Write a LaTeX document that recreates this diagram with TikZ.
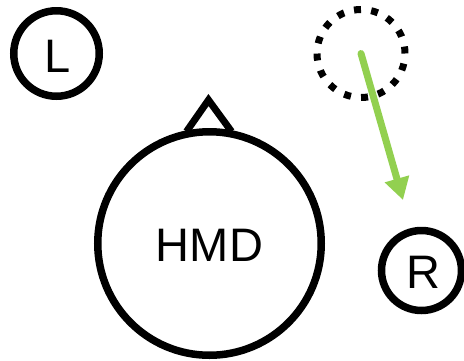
\documentclass[tikz,border=0pt]{standalone}
\usepackage{fontspec}
\setmainfont{Liberation Sans}
\usetikzlibrary{arrows.meta}
\definecolor{arrowgreen}{HTML}{92D050}
\begin{document}
\begin{tikzpicture}[x=1pt,y=-1pt,
  ring/.style={circle,draw=black,line width=7.5pt,inner sep=0pt},
  label/.style={font=\fontsize{47}{47}\selectfont},
  ghost/.style={circle,draw=black,line width=7pt,inner sep=0pt,
    dash pattern=on 7pt off 10.28pt},
  move/.style={draw=arrowgreen,line width=7pt,line cap=round,
    -{Triangle[length=22pt,width=24pt]}}]
  \useasboundingbox (0,0) rectangle (464,360);
  % left speaker
  \node[ring,minimum size=85.5pt] (L) at (56.5,53.5) {};
  \node[label] at (57.5,56) {L};
  % right speaker
  \node[ring,minimum size=80pt] (R) at (421.5,270.5) {};
  \node[label] at (423.5,272) {R};
  % headset with its nose marker
  \node[ring,minimum size=223.5pt] (HMD) at (209.5,243.5) {};
  \node[label] at (209.5,245.5) {HMD};
  \coordinate (noseL) at (186.5,131.5);
  \coordinate (noseR) at (231.5,131.5);
  \coordinate (noseTip) at (208.5,100);
  \draw[line width=7pt,miter limit=10] (noseL) -- (noseTip) -- (noseR);
  % previous position of the left speaker and its move
  \node[ghost,minimum size=88pt] (old) at (361,53.5) {};
  \coordinate (tip) at (403,200);
  \draw[move] (old.center) -- (tip);
\end{tikzpicture}
\end{document}
